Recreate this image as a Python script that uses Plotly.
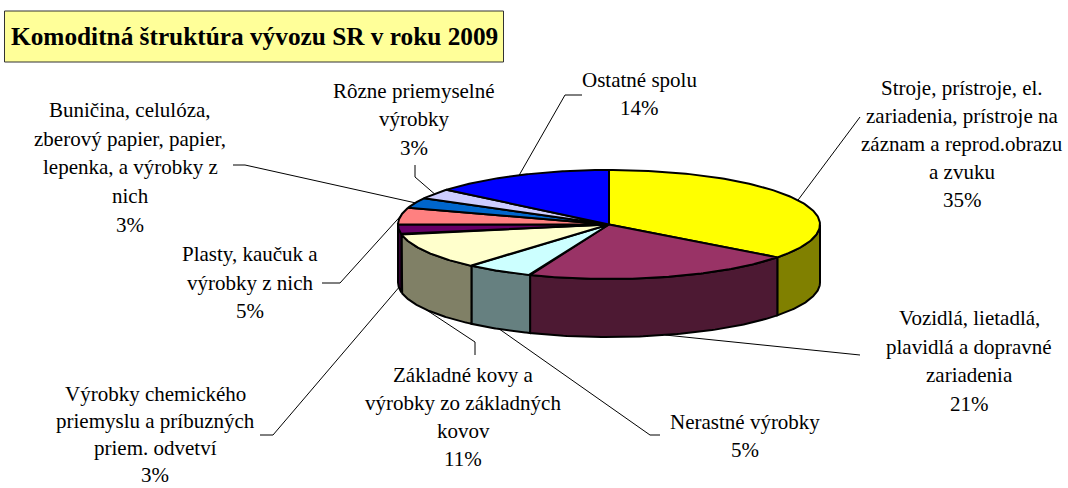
import numpy as np
import plotly.graph_objects as go

# ---- data ----
values = [35.3, 20.8, 5.2, 10.8, 2.9, 5.0, 3.0, 3.0, 14.0]
label_lines = [
    ["Stroje, prístroje, el.", "zariadenia, prístroje na", "záznam a reprod.obrazu", "a zvuku"],
    ["Vozidlá, lietadlá,", "plavidlá a dopravné", "zariadenia"],
    ["Nerastné výrobky"],
    ["Základné kovy a", "výrobky zo základných", "kovov"],
    ["Výrobky chemického", "priemyslu a príbuzných", "priem. odvetví"],
    ["Plasty, kaučuk a", "výrobky z nich"],
    ["Buničina, celulóza,", "zberový papier, papier,", "lepenka, a výrobky z", "nich"],
    ["Rôzne priemyselné", "výrobky"],
    ["Ostatné spolu"],
]
top_colors = ["#FFFF00", "#993366", "#CCFFFF", "#FFFFCC", "#660066", "#FF8080", "#0066CC", "#CCCCFF", "#0000FF"]
side_colors = ["#808000", "#4D1933", "#668080", "#808066", "#330033", "#804040", "#003366", "#666680", "#000080"]
title = "Komoditná štruktúra vývozu SR v roku 2009"

# ---- layout of the drawing (pixel-like axis units) ----
W, H = 1068, 488
CX, CY, RX, RY, DEPTH = 609, 224.5, 211, 54.5, 58
FONT = "Liberation Serif"
LABEL_SIZE = 21
# label centre x, y of first line, line step
label_pos = [(962, 88, 28), (969, 318, 28.7), (745, 422, 28), (463, 375, 28),
             (155, 394, 27.0), (250, 254, 28.5), (130, 110, 28.7), (414, 91, 28.3), (639, 80, 28)]
# leader bends after leaving the pie
leaders = [[(860, 117)], [(860, 355)], [(650, 435), (660, 435)], [(475, 342), (475, 355)],
           [(273, 435), (260, 435)], [(340, 283), (322, 283)], [(245, 165), (233, 165)],
           [(415, 177), (415, 165)], [(565, 95), (582, 95)]]


def pt(turn, drop=0.0):
    """Position on the pie rim, with turn in fractions clockwise from the top."""
    a = 2 * np.pi * np.asarray(turn)
    return CX + RX * np.sin(a), CY - RY * np.cos(a) + drop


total = sum(values)
edges = np.cumsum([0] + values) / total
fig = go.Figure()


def poly(xs, ys, color, width=2):
    fig.add_trace(go.Scatter(x=xs, y=ys, mode="lines", fill="toself", fillcolor=color,
                             line=dict(color="black", width=width), hoverinfo="skip", showlegend=False))


# side walls: only the front half of the rim is visible
for i, c in enumerate(side_colors):
    a, b = max(edges[i], 0.25), min(edges[i + 1], 0.75)
    if b <= a:
        continue
    t = np.linspace(a, b, 80)
    x1, y1 = pt(t)
    x2, y2 = pt(t[::-1], DEPTH)
    poly(np.r_[x1, x2, x1[0]], np.r_[y1, y2, y1[0]], c)

# top faces
for i, c in enumerate(top_colors):
    t = np.linspace(edges[i], edges[i + 1], 120)
    x, y = pt(t)
    poly(np.r_[CX, x, CX], np.r_[CY, y, CY], c)

# leader lines start at the rim at each slice's middle
for i, bends in enumerate(leaders):
    mid = (edges[i] + edges[i + 1]) / 2
    front = 0.25 < mid < 0.75
    x0, y0 = pt(mid, DEPTH if front else 0)
    xs = [float(x0)] + [p[0] for p in bends]
    ys = [float(y0)] + [p[1] for p in bends]
    fig.add_trace(go.Scatter(x=xs, y=ys, mode="lines", line=dict(color="black", width=1),
                             hoverinfo="skip", showlegend=False))

# labels, one annotation per line so the line step can follow the reference
annotations = []
for lines, v, (lx, ly, step) in zip(label_lines, values, label_pos):
    for j, text in enumerate(lines + [f"{round(v)}%"]):
        annotations.append(dict(x=lx, y=ly + j * step, xref="x", yref="y", text=text, showarrow=False,
                                xanchor="center", yanchor="middle",
                                font=dict(family=FONT, size=LABEL_SIZE, color="black")))
annotations.append(dict(x=254, y=36, xref="x", yref="y", text=f"<b>{title}</b>", showarrow=False,
                        xanchor="center", yanchor="middle", font=dict(family=FONT, size=25.3, color="black")))

fig.update_layout(
    width=W, height=H, margin=dict(l=0, r=0, t=0, b=0), paper_bgcolor="white", plot_bgcolor="white",
    xaxis=dict(range=[0, W], visible=False, fixedrange=True),
    yaxis=dict(range=[H, 0], visible=False, fixedrange=True),
    annotations=annotations,
    shapes=[dict(type="rect", xref="x", yref="y", x0=4.5, x1=503.5, y0=11, y1=62,
                 fillcolor="#FFFF99", line=dict(color="#333333", width=1), layer="below")],
)
fig.write_html("out.html", config={"displayModeBar": False},
               post_script="document.body.style.margin='0';document.body.style.overflow='hidden';")
